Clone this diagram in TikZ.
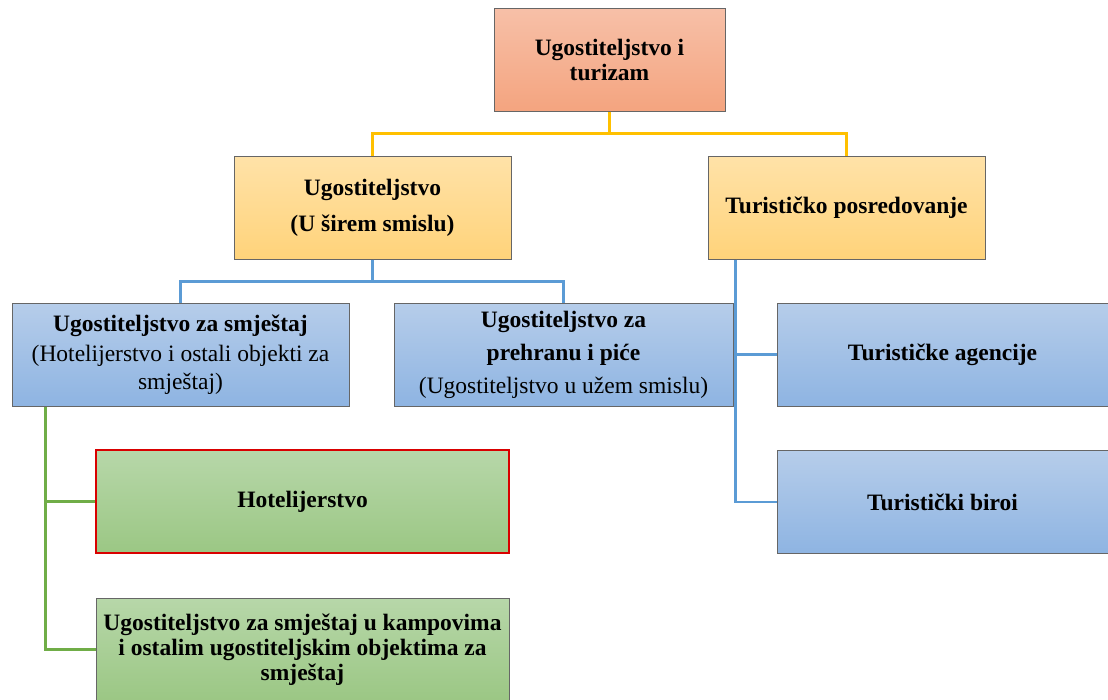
\documentclass[tikz,border=0pt]{standalone}
\usepackage{fontspec}
\setmainfont{Liberation Serif}
\definecolor{salmonT}{HTML}{F7C0A8}
\definecolor{salmonB}{HTML}{F4A47F}
\definecolor{yelT}{HTML}{FFE2A8}
\definecolor{yelB}{HTML}{FFD37A}
\definecolor{bluT}{HTML}{B6CDEA}
\definecolor{bluB}{HTML}{8EB4E2}
\definecolor{grnT}{HTML}{B7D7A9}
\definecolor{grnB}{HTML}{9BC784}
\definecolor{yelLine}{HTML}{FFC000}
\definecolor{bluLine}{HTML}{5B9BD5}
\definecolor{grnLine}{HTML}{70AD47}
\tikzset{
  box/.style={draw=gray!80!black, line width=1pt, rectangle, align=center,
    minimum height=103pt, inner sep=2pt, font=\fontsize{23.5}{25}\selectfont},
  salmonbox/.style={box, top color=salmonT, bottom color=salmonB},
  yelbox/.style={box, top color=yelT, bottom color=yelB},
  blubox/.style={box, top color=bluT, bottom color=bluB},
  grnbox/.style={box, top color=grnT, bottom color=grnB},
  yline/.style={draw=yelLine, line width=2.5pt},
  bline/.style={draw=bluLine, line width=2.5pt},
  gline/.style={draw=grnLine, line width=2.5pt}
}
\begin{document}
\begin{tikzpicture}[x=1pt, y=-1pt]
	\useasboundingbox (0,0) rectangle (1108,699);
	\begin{scope}
	\clip (0,0) rectangle (1108,699);
	\node[salmonbox, minimum width=231pt] (top) at (609.5,59.5) {\bfseries Ugostiteljstvo i\\\bfseries turizam};
	\node[yelbox, minimum width=277pt] (sirem) at (372.5,207.5) {\bfseries Ugostiteljstvo\\[11pt]\bfseries (U širem smislu)};
	\node[yelbox, minimum width=277pt] (posred) at (846.5,207.5) {\bfseries Turističko posredovanje};
	\node[blubox, minimum width=337pt] (smjestaj) at (180.5,354.5) {\bfseries Ugostiteljstvo za smještaj\\[5pt](Hotelijerstvo i ostali objekti za\\[3pt]smještaj)};
	\node[blubox, minimum width=339pt] (prehrana) at (563.5,354.5) {\bfseries Ugostiteljstvo za\\[8pt]\bfseries prehranu i piće\\[8pt](Ugostiteljstvo u užem smislu)};
	\node[blubox, minimum width=331pt] (agencije) at (942.5,354.5) {\bfseries Turističke agencije};
	\node[blubox, minimum width=331pt] (biroi) at (942.5,502) {\bfseries Turistički biroi};
	\node[grnbox, draw=red!85!black, line width=2pt, minimum width=413pt] (hotel) at (302.5,501.5) {\bfseries Hotelijerstvo};
	\node[grnbox, minimum width=413pt] (kamp) at (302.5,649.5) {\bfseries Ugostiteljstvo za smještaj u kampovima\\\bfseries i ostalim ugostiteljskim objektima za\\\bfseries smještaj};
	\end{scope}
	\coordinate (posredleg) at ([xshift=28pt]posred.south west);
	\coordinate (smjestajleg) at ([xshift=34pt]smjestaj.south west);
	\draw[yline] (top.south) -- +(0,22) -| (sirem.north);
	\draw[yline] (top.south) -- +(0,22) -| (posred.north);
	\draw[bline] (sirem.south) -- +(0,22) -| (smjestaj.north);
	\draw[bline] (sirem.south) -- +(0,22) -| (prehrana.north);
	\draw[bline] (posredleg) |- (agencije.west);
	\draw[bline] (posredleg) |- (biroi.west);
	\draw[gline] (smjestajleg) |- (hotel.west);
	\draw[gline] (smjestajleg) |- (kamp.west);
\end{tikzpicture}
\end{document}
